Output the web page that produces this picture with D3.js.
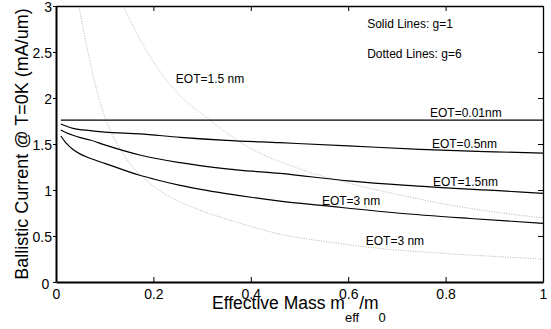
<html>
<head>
<style>
    body { margin: 0; background: #fff; }
    text { font-family: "Liberation Sans", Arial, Helvetica, sans-serif; fill: #000; }
    .axis path, .axis line { stroke: #000; }
    .solid { fill: none; stroke: #000; stroke-width: 1.2; }
    .dotted { fill: none; stroke: #b4b4b4; stroke-width: 1; stroke-dasharray: 1,1.5; }
</style>
</head>
<body>
<script src="https://cdn.jsdelivr.net/npm/d3@7"></script>
<script>
// values: [effective mass m_eff/m0, current mA/um]
var g1Eot001 = [[0.01,1.76],[0.25,1.76],[0.5,1.76],[0.75,1.76],[1,1.76]];
var g1Eot05  = [[0.01,1.717],[0.035,1.67],[0.07,1.645],[0.1,1.63],[0.172,1.61],[0.255,1.573],[0.35,1.54],[0.46,1.514],[0.6,1.48],[0.747,1.442],[0.9,1.415],[1,1.40]];
var g1Eot15  = [[0.01,1.652],[0.02,1.625],[0.035,1.595],[0.05,1.57],[0.07,1.543],[0.1,1.49],[0.172,1.38],[0.255,1.297],[0.35,1.23],[0.46,1.18],[0.6,1.10],[0.72,1.05],[0.9,0.995],[1,0.964]];
var g1Eot3   = [[0.01,1.587],[0.02,1.515],[0.035,1.44],[0.05,1.39],[0.07,1.345],[0.1,1.29],[0.172,1.16],[0.2,1.12],[0.255,1.05],[0.35,0.96],[0.46,0.88],[0.55,0.83],[0.7,0.75],[0.85,0.69],[1,0.638]];
var g6Eot15  = [[0.138,3.0],[0.185,2.52],[0.25,2.05],[0.316,1.76],[0.378,1.52],[0.5,1.23],[0.6,1.076],[0.706,0.946],[0.85,0.80],[1,0.696]];
var g6Eot3   = [[0.047,3.0],[0.066,2.49],[0.094,1.89],[0.105,1.73],[0.146,1.33],[0.193,1.07],[0.255,0.87],[0.296,0.78],[0.357,0.674],[0.46,0.52],[0.56,0.435],[0.665,0.365],[0.8,0.31],[1,0.25]];

var xTicks = [0, 0.2, 0.4, 0.6, 0.8, 1];
var yTicks = [0, 0.5, 1, 1.5, 2, 2.5, 3];

var width = 551, height = 329;
var margin = {left: 56, right: 8, top: 6, bottom: 47};

var svg = d3.select("body").append("svg")
        .attr("width", width)
        .attr("height", height);

var x = d3.scaleLinear().domain([0, 1]).range([margin.left, width - margin.right]);
var y = d3.scaleLinear().domain([0, 3]).range([height - margin.bottom, margin.top]);

svg.append("clipPath").attr("id", "plot")
    .append("rect")
    .attr("x", x(0)).attr("y", y(3))
    .attr("width", x(1) - x(0)).attr("height", y(0) - y(3));

var line = d3.line()
        .x(function (d) { return x(d[0]); })
        .y(function (d) { return y(d[1]); })
        .curve(d3.curveMonotoneX);

var curves = svg.append("g").attr("clip-path", "url(#plot)");

[g6Eot15, g6Eot3].forEach(function (s) {
    curves.append("path").datum(s).attr("class", "dotted").attr("d", line);
});
[g1Eot001, g1Eot05, g1Eot15, g1Eot3].forEach(function (s, i) {
    curves.append("path").datum(s).attr("class", "solid")
        .attr("stroke-width", i === 0 ? 1.8 : null)
        .attr("d", line);
});

// axes, matlab style box
var fmt = function (d) { return String(d); };

svg.append("g").attr("class", "axis")
    .attr("transform", "translate(0," + y(0) + ")")
    .call(d3.axisBottom(x).tickValues(xTicks).tickFormat(fmt).tickSizeInner(-5).tickSizeOuter(0).tickPadding(7))
    .call(function (g) {
        g.select(".domain").attr("stroke-width", 2);
        g.selectAll("text").attr("font-size", 14);
    });

svg.append("g").attr("class", "axis")
    .attr("transform", "translate(" + x(0) + ",0)")
    .call(d3.axisLeft(y).tickValues(yTicks).tickFormat(fmt).tickSizeInner(3).tickSizeOuter(0).tickPadding(1))
    .call(function (g) {
        g.select(".domain").attr("stroke-width", 2);
        g.selectAll("text").attr("font-size", 14).attr("dy", "0.36em");
        g.selectAll(".tick").filter(function (d) { return d === 0; })
            .select("text").attr("dx", "-0.2em").attr("dy", "0.45em");
    });

svg.append("g").attr("class", "axis")
    .attr("transform", "translate(0," + y(3) + ")")
    .call(d3.axisTop(x).tickValues(xTicks).tickFormat("").tickSizeInner(-5).tickSizeOuter(0))
    .call(function (g) { g.select(".domain").attr("stroke-width", 1.3); });

svg.append("g").attr("class", "axis")
    .attr("transform", "translate(" + x(1) + ",0)")
    .call(d3.axisRight(y).tickValues(yTicks).tickFormat("").tickSizeInner(-5).tickSizeOuter(0))
    .call(function (g) { g.select(".domain").attr("stroke-width", 1.3); });

svg.selectAll(".axis text").attr("fill", "#000").attr("font-family", null);

// axis titles
var xl = svg.append("text")
        .attr("x", 212)
        .attr("y", 309)
        .attr("font-size", 17.5);
xl.append("tspan").text("Effective Mass m");
xl.append("tspan").attr("font-size", 13).attr("dy", 13).text("eff");
xl.append("tspan").attr("dy", -13).text("/m");
xl.append("tspan").attr("font-size", 13).attr("dy", 13).text("0");

svg.append("text")
    .attr("transform", "translate(28," + (y(0) + y(3)) / 2 + ") rotate(-90)")
    .attr("text-anchor", "middle")
    .attr("font-size", 18)
    .text("Ballistic Current @ T=0K (mA/um)");

// annotations
var notes = [
    ["Solid Lines: g=1", 0.639, 2.76],
    ["Dotted Lines: g=6", 0.639, 2.435],
    ["EOT=1.5 nm", 0.246, 2.163],
    ["EOT=0.01nm", 0.768, 1.793],
    ["EOT=0.5nm", 0.772, 1.457],
    ["EOT=1.5nm", 0.774, 1.043],
    ["EOT=3 nm", 0.546, 0.837],
    ["EOT=3 nm", 0.636, 0.402]
];
svg.selectAll(".note").data(notes).enter()
    .append("text")
    .attr("class", "note")
    .attr("x", function (d) { return x(d[1]); })
    .attr("y", function (d) { return y(d[2]); })
    .attr("font-size", 12)
    .text(function (d) { return d[0]; });
</script>
</body>
</html>
